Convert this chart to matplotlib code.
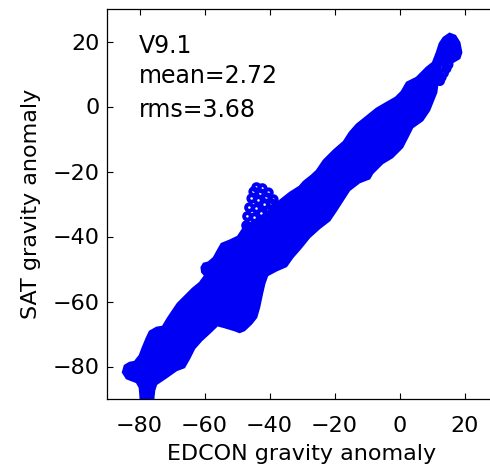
import numpy as np
import matplotlib
matplotlib.use("Agg")
import matplotlib.pyplot as plt

plt.rcParams['font.family'] = ['DejaVu Sans']

# outline of the dense point cloud
# upper/left edge from the bottom spine up to the tip
band_upper_x = [-79.7, -80.0, -80.9, -84.0, -85.2, -84.6, -83.1, -81.5, -80.0, -79.1,
                -77.8, -76.9, -74.8, -72.9, -71.4, -69.8, -68.3, -66.2, -63.7, -61.5,
                -59.9, -60.8, -61.0, -60.3, -58.8, -57.2, -56.0, -54.8, -52.3, -49.8,
                -48.6, -47.4, -44.3, -41.8, -39.7, -38.2, -37.2, -35.7, -33.8, -30.8,
                -29.5, -27.1, -25.5, -23.4, -20.3, -17.2, -15.4, -13.2, -10.2, -7.1,
                -4.0, -1.2, 0.6, 2.2, 5.2, 8.3, 10.2, 11.4, 12.3, 13.5,
                15.4, 17.2, 18.5, 19.1, 18.5]
band_upper_y = [-90.2, -86.5, -84.9, -83.7, -81.8, -79.7, -78.8, -78.5, -76.6, -74.2,
                -71.1, -69.2, -68.0, -67.7, -65.2, -62.8, -60.6, -58.5, -56.0, -54.2,
                -52.0, -51.0, -49.5, -48.3, -47.9, -46.5, -44.3, -42.2, -41.2, -40.0,
                -38.2, -36.3, -35.7, -33.8, -31.1, -28.9, -29.2, -28.0, -26.5, -24.6,
                -23.1, -21.2, -19.7, -16.6, -13.5, -10.8, -8.0, -5.5, -3.1, -0.6,
                1.2, 2.8, 4.6, 7.4, 8.9, 12.0, 13.5, 16.6, 19.4, 21.2,
                22.5, 21.8, 19.7, 16.6, 14.8]
# lower/right edge from the tip back down to the bottom spine
band_lower_x = [16.3, 12.8, 11.9, 11.8, 11.4, 9.2, 7.1, 4.0, 2.5, 0.9,
                -2.2, -5.2, -8.3, -9.2, -12.3, -15.4, -17.8, -19.4, -21.5, -24.6,
                -27.7, -30.2, -32.9, -34.8, -37.8, -40.6, -41.5, -42.2, -43.1, -44.0,
                -45.5, -47.7, -49.2, -50.8, -53.8, -56.0, -58.5, -60.9, -63.1, -64.6,
                -66.2, -68.6, -71.7, -74.8, -75.4, -75.7]
band_lower_y = [13.5, 12.6, 9.8, 7.3, 4.3, -1.2, -4.3, -6.5, -9.5, -12.6,
                -15.7, -17.5, -20.6, -22.2, -23.4, -25.8, -29.5, -32.0, -35.1, -37.5,
                -40.3, -43.4, -46.5, -49.2, -50.5, -52.0, -54.5, -57.5, -61.8, -64.9,
                -66.8, -68.9, -69.5, -68.9, -68.0, -67.4, -69.8, -72.0, -74.5, -77.5,
                -80.3, -81.2, -83.4, -85.5, -87.4, -90.2]

# single points still visible as open circles (spike near -43 and the tip)
ring_x = [-47.1, -46.8, -46.2, -45.5, -44.9, -44.0,
          -45.2, -44.6, -44.0, -43.4, -42.8, -42.2,
          -43.1, -42.5, -41.5, -40.9, -40.3,
          -41.2, -40.3, -39.4, -38.8,
          15.0, 14.4, 13.6, 12.9, 12.4]
ring_y = [-36.6, -33.8, -31.1, -28.3, -26.2, -24.9,
          -36.9, -34.2, -31.4, -28.9, -26.8, -25.2,
          -35.7, -32.9, -30.2, -28.0, -26.5,
          -34.5, -32.0, -29.8, -28.6,
          12.9, 11.7, 10.3, 9.0, 7.9]

x_ticks = [-80, -60, -40, -20, 0, 20]
y_ticks = [-80, -60, -40, -20, 0, 20]
info_lines = ['V9.1', 'mean=2.72', 'rms=3.68']
info_y = [16.6, 7.1, -3.1]

fig = plt.figure(figsize=(4.9, 4.71), dpi=100)
ax = fig.add_axes([107/490, 72/471, 390/490, 390/471])

poly_x = band_upper_x + band_lower_x
poly_y = band_upper_y + band_lower_y
ax.fill(poly_x, poly_y, color='#0000f5', lw=1.2, edgecolor='#0000f5', zorder=2)
ax.scatter(ring_x, ring_y, s=22, facecolors='none', edgecolors='#0000f5',
           linewidths=2.8, zorder=3)

for txt, yy in zip(info_lines, info_y):
    ax.text(-80.3, yy, txt, fontsize=17, va='baseline', ha='left')

ax.set_xlim(-90, 30)
ax.set_ylim(-90, 30)
ax.set_xticks(x_ticks)
ax.set_yticks(y_ticks)
ax.tick_params(direction='in', top=True, right=True, length=4.5, width=0.8,
               labelsize=16)
ax.tick_params(axis='x', pad=12)
ax.tick_params(axis='y', pad=5)
for sp in ax.spines.values():
    sp.set_linewidth(0.9)

ax.set_xlabel('EDCON gravity anomaly', fontsize=16)
ax.set_ylabel('SAT gravity anomaly', fontsize=16)
ax.xaxis.set_label_coords(0.5, -0.115)
ax.yaxis.set_label_coords(-0.17, 0.5)

fig.savefig('out.png', dpi=100)
